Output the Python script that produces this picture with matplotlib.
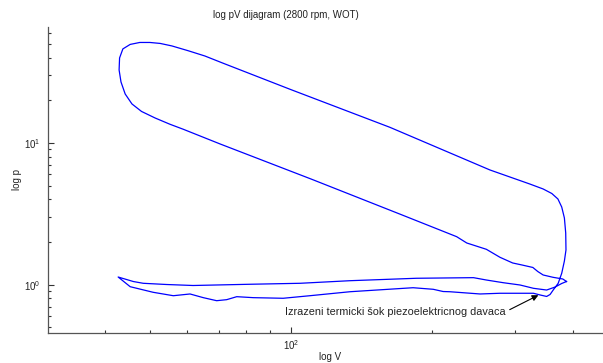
import matplotlib
matplotlib.use("Agg")
import matplotlib.pyplot as plt
from matplotlib.ticker import LogLocator, NullFormatter, FixedLocator

plt.rcParams['font.family'] = ['Liberation Sans', 'DejaVu Sans']
plt.rcParams['mathtext.fontset'] = 'custom'
plt.rcParams['mathtext.rm'] = 'Liberation Sans'
plt.rcParams['mathtext.it'] = 'Liberation Sans'

# cylinder volume (cm^3) and pressure (bar), traced around the cycle
V = [387, 380, 362, 345, 336, 328, 311, 297, 279, 261, 237, 225.5, 171, 110.6,
     70.5, 58.8, 55.1, 51.2, 47.9, 45.7, 44.2, 43.3, 42.9, 43.0, 43.7, 45.3,
     47.5, 49.9, 52.5, 55.6, 60.2, 65.4, 71.6, 99.4, 162.4, 265.6, 323, 345,
     360, 371, 378, 383, 385.5, 386, 383, 378, 371.5, 362.5, 357, 351, 340,
     329, 279, 253, 218, 211, 201, 182, 133.5, 109.6, 96.1, 83.0, 76.5, 72.8,
     69.3, 64.9, 60.8, 56.0, 50.7, 45.3, 42.7, 46.0, 48.3, 54.2, 61.7, 81.6,
     104.4, 133.5, 185, 245, 261, 283.5, 308, 329, 351, 366, 378, 387]
p = [1.053, 1.097, 1.128, 1.171, 1.239, 1.323, 1.377, 1.423, 1.561, 1.777,
     1.969, 2.182, 3.139, 5.544, 9.838, 12.50, 13.55, 15.01, 16.69, 18.85,
     22.17, 26.95, 32.75, 39.8, 46.1, 49.6, 51.2, 51.2, 50.4, 48.4, 44.8,
     41.1, 36.5, 23.93, 12.90, 6.45, 5.136, 4.736, 4.401, 4.025, 3.533, 2.956,
     2.317, 1.758, 1.470, 1.204, 1.023, 0.917, 0.853, 0.826, 0.846, 0.870,
     0.870, 0.860, 0.892, 0.895, 0.928, 0.952, 0.892, 0.836, 0.802, 0.810,
     0.823, 0.784, 0.771, 0.810, 0.860, 0.836, 0.884, 0.968, 1.133, 1.053,
     1.023, 1.003, 0.987, 1.007, 1.023, 1.067, 1.110, 1.121, 1.079, 1.033,
     0.995, 0.943, 0.917, 0.963, 1.020, 1.053]

title = "log pV dijagram (2800 rpm, WOT)"
xlabel = "log V"
ylabel = "log p"
note = "Izrazeni termicki šok piezoelektricnog davaca"
note_target = (337, 0.843)
note_text_pos = (97, 0.645)

W, H = 603, 363
fig = plt.figure(figsize=(W / 100, H / 100), dpi=100)
L, R, T, B = 47.7, 612, 27.3, 332.7
ax = fig.add_axes([L / W, 1 - B / H, (R - L) / W, (B - T) / H])

ax.plot(V, p, color='#0000ff', lw=0.9)
ax.set_xscale('log')
ax.set_yscale('log')
ax.set_xlim(30.2, 484)
ax.set_ylim(0.4584, 65.5)

for s in ['top', 'right']:
    ax.spines[s].set_visible(False)
for s in ['left', 'bottom']:
    ax.spines[s].set_color('#555555')
    ax.spines[s].set_linewidth(0.9)

ax.xaxis.set_major_locator(FixedLocator([100]))
ax.yaxis.set_major_locator(FixedLocator([1, 10]))
ax.xaxis.set_minor_locator(LogLocator(base=10, subs=range(2, 10), numticks=20))
ax.yaxis.set_minor_locator(LogLocator(base=10, subs=range(2, 10), numticks=20))
ax.xaxis.set_minor_formatter(NullFormatter())
ax.yaxis.set_minor_formatter(NullFormatter())
ax.set_xticklabels([r'$10^{2}$'])
ax.set_yticklabels([r'$10^{0}$', r'$10^{1}$'])
ax.tick_params(which='major', direction='in', length=4, width=0.8, color='#333333',
               labelsize=7, labelcolor='#222222')
ax.tick_params(which='minor', direction='in', length=2, width=0.8, color='#333333')
ax.tick_params(axis='x', pad=4)
ax.tick_params(axis='y', pad=5)

ax.set_xlabel(xlabel, fontsize=7, color='#222222', labelpad=0)
ax.set_ylabel(ylabel, fontsize=7, color='#222222', labelpad=2)
fig.text(286 / W, 1 - 15 / H, title, fontsize=7, color='#222222',
         ha='center', va='center')

ax.annotate(note, xy=note_target, xytext=note_text_pos, fontsize=7.8,
            color='#222222', ha='left', va='center',
            arrowprops=dict(arrowstyle='-|>', color='black', lw=0.8,
                            mutation_scale=9, shrinkA=1, shrinkB=0,
                            relpos=(1.0, 0.5)))

fig.savefig('out.png', dpi=100)
